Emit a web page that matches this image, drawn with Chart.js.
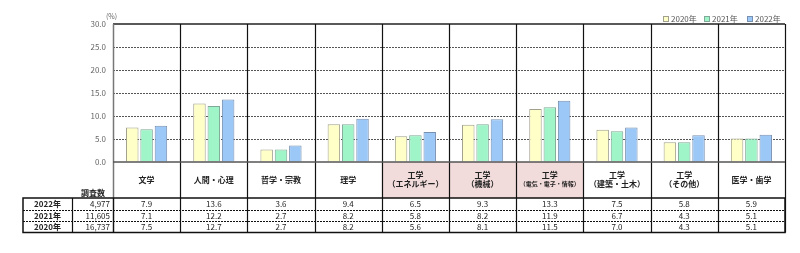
<!DOCTYPE html>
<html>
<head>
<meta charset="utf-8">
<script src="https://cdn.jsdelivr.net/npm/chart.js@4/dist/chart.umd.min.js"></script>
<style>
  body { margin: 0; background: #fff; }
</style>
</head>
<body>
<canvas id="myChart" width="800" height="253"></canvas>
<script>
// categories (line 1 / line 2)
var catLine1 = ['文学', '人間・心理', '哲学・宗教', '理学', '工学', '工学', '工学', '工学', '工学', '医学・歯学']
var catLine2 = ['', '', '', '', '（エネルギー）', '（機械）', '（電気・電子・情報）', '（建築・土木）', '（その他）', '']
var pinkCats = [4, 5, 6]
var years = ['2020年', '2021年', '2022年']
var v2020 = [7.5, 12.7, 2.7, 8.2, 5.6, 8.1, 11.5, 7.0, 4.3, 5.1]
var v2021 = [7.1, 12.2, 2.7, 8.2, 5.8, 8.2, 11.9, 6.7, 4.3, 5.1]
var v2022 = [7.9, 13.6, 3.6, 9.4, 6.5, 9.3, 13.3, 7.5, 5.8, 5.9]
// 調査数
var counts = { '2022年': '4,977', '2021年': '11,605', '2020年': '16,737' }
var tableRows = ['2022年', '2021年', '2020年']
var yMax = 30
var yStep = 5

var FONT = '"Noto Sans CJK JP", "Noto Sans", sans-serif'

var tablePlugin = {
  id: 'tablePlugin',
  afterDraw: function(chart) {
    var ctx = chart.ctx
    var area = chart.chartArea
    var x = chart.scales.x
    var n = catLine1.length
    var colW = (area.right - area.left) / n
    var labTop = area.bottom
    var tTop = 198, rowH = 11.5
    var tBot = tTop + rowH * 3
    var tLeft = 23, c1 = 72
    ctx.save()

    // pink label cells
    ctx.fillStyle = '#f2dcdb'
    pinkCats.forEach(function(i) {
      var cx = x.getPixelForValue(i)
      ctx.fillRect(cx - colW / 2, labTop, colW, tTop - labTop)
    })

    // top border
    ctx.strokeStyle = '#222'
    ctx.lineWidth = 1.5
    ctx.beginPath()
    ctx.moveTo(area.left, area.top)
    ctx.lineTo(area.right, area.top)
    ctx.stroke()

    // category separators
    for (var i = 0; i <= n; i++) {
      var bx = Math.round(area.left + colW * i) + 0.5
      ctx.beginPath()
      ctx.strokeStyle = i === 0 ? '#777' : '#111'
      ctx.lineWidth = i === 0 ? 1.5 : 1.2
      ctx.moveTo(bx, area.top)
      ctx.lineTo(bx, tBot)
      ctx.stroke()
    }
    // baseline
    ctx.strokeStyle = '#555'
    ctx.lineWidth = 1.5
    ctx.beginPath()
    ctx.moveTo(area.left, area.bottom)
    ctx.lineTo(area.right, area.bottom)
    ctx.stroke()

    // category labels
    ctx.fillStyle = '#222'
    ctx.textAlign = 'center'
    ctx.textBaseline = 'middle'
    for (var i = 0; i < n; i++) {
      var cx = x.getPixelForValue(i)
      ctx.font = 'bold 8px ' + FONT
      if (catLine2[i] === '') {
        ctx.fillText(catLine1[i], cx, 180)
      } else {
        ctx.fillText(catLine1[i], cx, 175)
        ctx.font = (catLine2[i].length > 8 ? 'bold 6px ' : 'bold 8px ') + FONT
        ctx.fillText(catLine2[i], cx, 184)
      }
    }
    ctx.font = 'bold 8px ' + FONT
    ctx.fillText('調査数', 93, 193)

    // table frame
    ctx.strokeStyle = '#111'
    ctx.lineWidth = 1.5
    ctx.strokeRect(tLeft, tTop, area.right - tLeft, rowH * 3)
    ctx.lineWidth = 1.2
    ;[c1, area.left].forEach(function(cx) {
      ctx.beginPath()
      ctx.moveTo(Math.round(cx) + 0.5, tTop)
      ctx.lineTo(Math.round(cx) + 0.5, tBot)
      ctx.stroke()
    })
    ctx.setLineDash([2, 1])
    ctx.lineWidth = 1
    for (var r = 1; r < 3; r++) {
      var ry = Math.round(tTop + rowH * r) + 0.5
      ctx.beginPath()
      ctx.moveTo(tLeft, ry)
      ctx.lineTo(area.right, ry)
      ctx.stroke()
    }
    ctx.setLineDash([])

    // table values
    var byYear = { '2020年': v2020, '2021年': v2021, '2022年': v2022 }
    ctx.font = '8px ' + FONT
    ctx.fillStyle = '#222'
    tableRows.forEach(function(yr, r) {
      var cy = tTop + rowH * r + rowH / 2 + 0.5
      ctx.textAlign = 'center'
      ctx.font = 'bold 8px ' + FONT
      ctx.fillText(yr, (tLeft + c1) / 2, cy)
      ctx.font = '8px ' + FONT
      ctx.textAlign = 'right'
      ctx.fillText(counts[yr], area.left - 3, cy)
      ctx.textAlign = 'center'
      byYear[yr].forEach(function(v, i) {
        ctx.fillText(v.toFixed(1), x.getPixelForValue(i), cy)
      })
    })

    // unit
    ctx.fillStyle = '#666'
    ctx.font = '7px ' + FONT
    ctx.textAlign = 'left'
    ctx.fillText('(%)', 106, 16)

    // legend
    var lx = [663, 704, 747]
    chart.data.datasets.forEach(function(ds, i) {
      ctx.fillStyle = ds.backgroundColor
      ctx.strokeStyle = ds.borderColor
      ctx.lineWidth = 1
      ctx.fillRect(lx[i], 16, 5, 5)
      ctx.strokeRect(lx[i] + 0.5, 16.5, 5, 5)
      ctx.fillStyle = '#555'
      ctx.font = '8px ' + FONT
      ctx.textAlign = 'left'
      ctx.fillText(ds.label, lx[i] + 8, 19)
    })
    ctx.restore()
  }
}

var ctx = document.getElementById('myChart').getContext('2d')
var myChart = new Chart(ctx, {
  type: 'bar',
  data: {
    labels: catLine1,
    datasets: [{
      label: years[0],
      data: v2020,
      backgroundColor: '#ffffc8',
      borderColor: '#a0a08c'
    }, {
      label: years[1],
      data: v2021,
      backgroundColor: '#a0f5c8',
      borderColor: '#80a898'
    }, {
      label: years[2],
      data: v2022,
      backgroundColor: '#9cc8f8',
      borderColor: '#7890b0'
    }]
  },
  options: {
    responsive: false,
    animation: false,
    layout: { padding: { top: 24, bottom: 91, left: 0, right: 15 } },
    datasets: {
      bar: { borderWidth: 1, categoryPercentage: 0.64, barPercentage: 0.87 }
    },
    plugins: {
      legend: { display: false },
      tooltip: { enabled: false }
    },
    scales: {
      x: { display: false },
      y: {
        min: 0,
        max: yMax,
        afterFit: function(s) { s.width = 113 },
        ticks: {
          stepSize: yStep,
          padding: 7,
          color: '#666',
          font: { size: 8, family: FONT },
          callback: function(v) { return v.toFixed(1) }
        },
        grid: {
          drawTicks: false,
          color: function(c) {
            return (c.tick.value === 0 || c.tick.value === yMax) ? 'rgba(0,0,0,0)' : '#555'
          },
          lineWidth: 1
        },
        border: { display: false, dash: [2, 1] }
      }
    }
  },
  plugins: [tablePlugin]
})
</script>
</body>
</html>
